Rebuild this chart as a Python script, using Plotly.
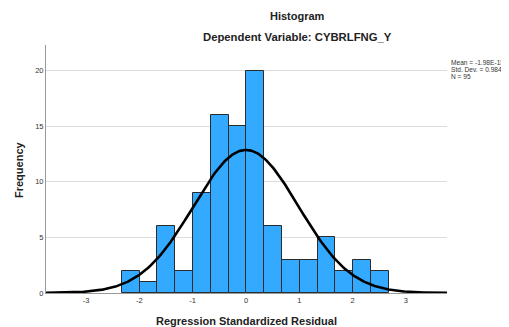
import numpy as np
import plotly.graph_objects as go

# Data
bin_start = -2.33
bin_width = 0.334
frequencies = [2, 1, 6, 2, 9, 16, 15, 20, 6, 3, 3, 5, 2, 3, 2]
x_tick_vals = [-3, -2, -1, 0, 1, 2, 3]
y_tick_vals = [0, 5, 10, 15, 20]
stat_mean = -1.98e-15
stat_sd = 0.984
stat_n = 95
stat_lines = ["Mean = -1.98E-15", "Std. Dev. = 0.984", "N = 95"]

centers = [bin_start + bin_width * (i + 0.5) for i in range(len(frequencies))]

# Fitted normal curve from the reported statistics
xc = np.linspace(-3.75, 3.77, 400)
yc = stat_n * bin_width * np.exp(-0.5 * ((xc - stat_mean) / stat_sd) ** 2) / (stat_sd * np.sqrt(2 * np.pi))

# page body has an 8px margin, so the figure is offset by 8px
OFF = 8
W, H = 509 - OFF, 327 - OFF
ML, MR, MT, MB = 46 - OFF, 62, 45 - OFF, 34
PW, PH = W - ML - MR, H - MT - MB

fig = go.Figure()
fig.add_trace(go.Bar(
    x=centers, y=frequencies, width=bin_width,
    marker=dict(color="#33AAFF", line=dict(color="#2b2b2b", width=1)),
    showlegend=False, hoverinfo="skip"))
fig.add_trace(go.Scatter(
    x=xc, y=yc, mode="lines", line=dict(color="black", width=2.6),
    showlegend=False, hoverinfo="skip"))


def px(xp, yp, text, size, color="#222", **kw):
    """annotation placed by pixel centre in the 509x327 screenshot"""
    x = (xp - OFF - ML) / PW
    y = (H - (yp - OFF) - MB) / PH
    d = dict(text=text, x=x, y=y, xref="paper", yref="paper", showarrow=False,
             xanchor="center", yanchor="middle", font=dict(size=size, color=color))
    d.update(kw)
    return d


font = "Liberation Sans, Arial, sans-serif"
fig.update_layout(
    width=W, height=H,
    margin=dict(l=ML, r=MR, t=MT, b=MB, autoexpand=False),
    paper_bgcolor="white", plot_bgcolor="white",
    font=dict(family=font, color="#222"),
    bargap=0,
    xaxis=dict(range=[-3.75, 3.77], tickvals=x_tick_vals, ticktext=[str(v) for v in x_tick_vals],
               showgrid=False, zeroline=False, showline=True, linecolor="#9a9a9a", linewidth=1,
               ticks="", tickfont=dict(size=7.5, color="#333")),
    yaxis=dict(range=[0, 22.3], tickvals=y_tick_vals, showgrid=True, gridcolor="#dcdcdc", gridwidth=1,
               zeroline=False, showline=True, linecolor="#9a9a9a", linewidth=1,
               ticks="", tickfont=dict(size=7.5, color="#333")),
    annotations=[
        px(297, 16, "<b>Histogram</b>", 11),
        px(297, 37, "<b>Dependent Variable: CYBRLFNG_Y</b>", 11.3),
        px(246, 321, "<b>Regression Standardized Residual</b>", 11),
        px(19, 170, "<b>Frequency</b>", 11, textangle=-90),
    ] + [
        px(449, 62 + 7.3 * i, s, 6.6, color="#333", xanchor="left")
        for i, s in enumerate(stat_lines)
    ],
)

fig.write_html("out.html")
